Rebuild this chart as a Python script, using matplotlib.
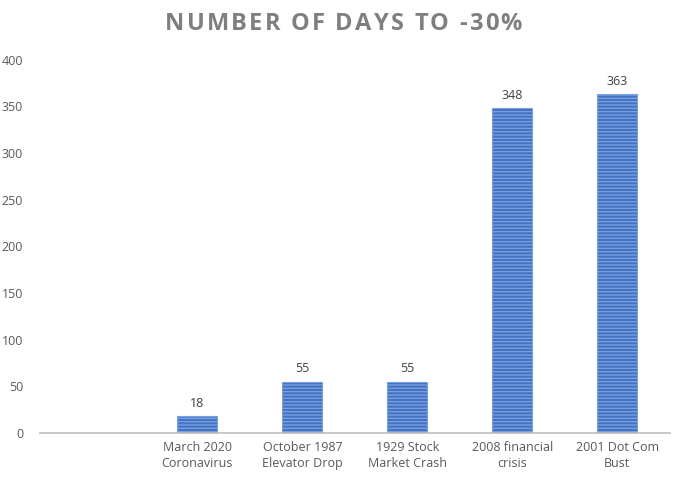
import matplotlib
matplotlib.use("Agg")
import matplotlib.pyplot as plt
from matplotlib.textpath import TextPath
from matplotlib.font_manager import FontProperties

categorias = ["", "March 2020\nCoronavirus", "October 1987\nElevator Drop",
              "1929 Stock\nMarket Crash", "2008 financial\ncrisis", "2001 Dot Com\nBust"]
dias = [None, 18, 55, 55, 348, 363]
yticks = [0, 50, 100, 150, 200, 250, 300, 350, 400]
titulo = "NUMBER OF DAYS TO -30%"

plt.rcParams['font.family'] = ['Open Sans', 'DejaVu Sans']
plt.rcParams['hatch.color'] = '#E8F0FC'
plt.rcParams['hatch.linewidth'] = 0.95

fig = plt.figure(figsize=(6.87, 4.86), dpi=100)
ax = fig.add_axes([0.058, 0.109, 0.917, 0.768])

xs = [i for i, v in enumerate(dias) if v is not None]
vals = [v for v in dias if v is not None]
ax.bar(xs, vals, width=0.38, color='#4472C4', edgecolor='#7AA0DE',
       linewidth=0.8, hatch='-----')

for x, v in zip(xs, vals):
    ax.text(x, v + 7, str(v), ha='center', va='bottom', fontsize=9, color='#404040')

ax.set_xlim(-0.5, len(categorias) - 0.5)
ax.set_ylim(0, 400)
ax.set_xticks(range(len(categorias)))
ax.set_xticklabels(categorias, fontsize=9, color='#595959', linespacing=1.3)
ax.set_yticks(yticks)
ax.set_yticklabels([str(t) for t in yticks], fontsize=9, color='#595959')
ax.tick_params(length=0, pad=6)
ax.tick_params(axis='y', pad=12)

for s in ['top', 'right', 'left']:
    ax.spines[s].set_visible(False)
ax.spines['bottom'].set_color('#BFBFBF')
ax.spines['bottom'].set_linewidth(1.2)

# titulo com espacamento entre letras (estilo Excel)
fp = FontProperties(family='Open Sans', weight='bold', size=17)
espaco = 2.2  # pixels extra entre letras
px = 100 / 72
base = TextPath((0, 0), "||", prop=fp).get_extents().width
avancos = [(TextPath((0, 0), "|" + c + "|", prop=fp).get_extents().width - base) * px
           for c in titulo]
total = sum(avancos) + espaco * (len(titulo) - 1)
x0 = 687 / 2 - total / 2
for c, a in zip(titulo, avancos):
    fig.text(x0 / 687, 1 - 24 / 486, c, ha='left', va='center',
             fontproperties=fp, color='#7F7F7F')
    x0 += a + espaco

plt.savefig("out.png", dpi=100)
